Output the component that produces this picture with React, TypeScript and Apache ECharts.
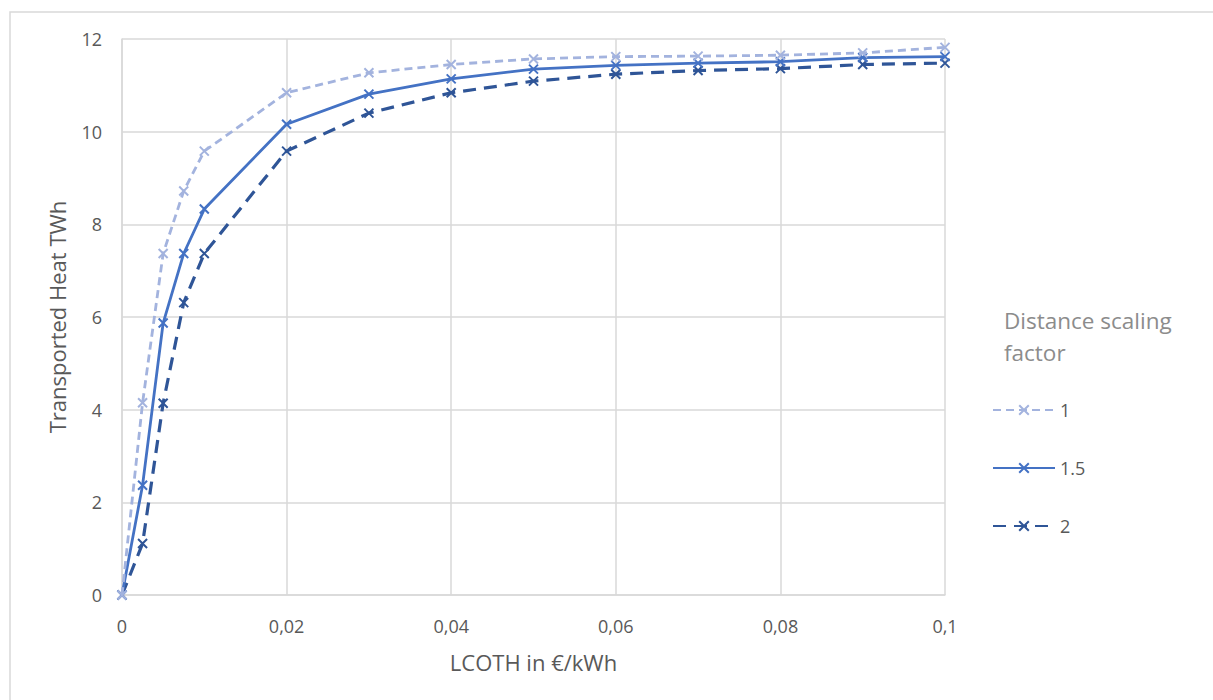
import React, { useEffect, useRef } from "react";
import * as echarts from "echarts";

const xValues = [0, 0.0025, 0.005, 0.0075, 0.01, 0.02, 0.03, 0.04, 0.05, 0.06, 0.07, 0.08, 0.09, 0.1];
const series1 = [0, 4.15, 7.37, 8.72, 9.58, 10.84, 11.27, 11.45, 11.57, 11.62, 11.63, 11.65, 11.7, 11.82];
const series15 = [0, 2.37, 5.87, 7.37, 8.33, 10.16, 10.81, 11.14, 11.35, 11.43, 11.48, 11.51, 11.6, 11.62];
const series2 = [0, 1.11, 4.14, 6.31, 7.37, 9.58, 10.4, 10.84, 11.09, 11.24, 11.32, 11.36, 11.45, 11.48];
const seriesNames = ["1", "1.5", "2"];
const xTickLabels = ["0", "0,02", "0,04", "0,06", "0,08", "0,1"];
const yTickLabels = ["0", "2", "4", "6", "8", "10", "12"];
const legendTitle = ["Distance scaling", "factor"];
const xAxisName = "LCOTH in €/kWh";
const yAxisName = "Transported Heat TWh";

const FONT = "'Open Sans', 'Noto Sans', sans-serif";
const X_MARK = "path://M0,0L10,10M10,0L0,10";

function pairs(ys: number[]) {
  return xValues.map((x, i) => [x, ys[i]]);
}

export default function App() {
  const ref = useRef<HTMLDivElement>(null);
  useEffect(() => {
    if (!ref.current) return;
    const chart = echarts.init(ref.current, undefined, { renderer: "svg" });
    const colors = ["#A3B3DE", "#4472C4", "#2F5597"];
    const dashes: any[] = [[8, 5], "solid", [13, 8]];
    const widths = [2.8, 2.8, 3.2];
    const datas = [series1, series15, series2];
    chart.setOption({
      animation: false,
      backgroundColor: "#ffffff",
      textStyle: { fontFamily: FONT },
      grid: { left: 122, right: 268, top: 39, bottom: 105, containLabel: false },
      xAxis: {
        type: "value",
        min: 0,
        max: 0.1,
        interval: 0.02,
        name: xAxisName,
        nameLocation: "middle",
        nameGap: 56,
        nameTextStyle: { fontSize: 22, color: "#595959", fontFamily: FONT },
        axisLine: { show: true, lineStyle: { color: "#D9D9D9", width: 1.5 } },
        axisTick: { show: false },
        splitLine: { show: true, lineStyle: { color: "#D9D9D9", width: 1.5 } },
        axisLabel: {
          margin: 22,
          fontSize: 18,
          color: "#595959",
          fontFamily: FONT,
          formatter: (v: number) => xTickLabels[Math.round(v / 0.02)] ?? "",
        },
      },
      yAxis: {
        type: "value",
        min: 0,
        max: 12,
        interval: 2,
        name: yAxisName,
        nameLocation: "middle",
        nameGap: 54,
        nameTextStyle: { fontSize: 22, color: "#595959", fontFamily: FONT },
        axisLine: { show: true, lineStyle: { color: "#D9D9D9", width: 1.5 } },
        axisTick: { show: false },
        splitLine: { show: true, lineStyle: { color: "#D9D9D9", width: 1.5 } },
        axisLabel: {
          margin: 20,
          fontSize: 18,
          color: "#595959",
          fontFamily: FONT,
          formatter: (v: number) => yTickLabels[Math.round(v / 2)] ?? "",
        },
      },
      legend: {
        orient: "vertical",
        left: 992,
        top: 401,
        padding: 0,
        itemWidth: 62,
        itemHeight: 12,
        itemGap: 40,
        textStyle: { fontSize: 18, color: "#595959", fontFamily: FONT },
        data: seriesNames,
      },
      graphic: [
        {
          type: "rect",
          silent: true,
          z: -10,
          shape: { x: 10, y: 12, width: 1300, height: 800 },
          style: { fill: "none", stroke: "#D9D9D9", lineWidth: 1.5 },
        },
        {
          type: "text",
          left: 1004,
          top: 304,
          style: {
            text: legendTitle.join("\n"),
            fontSize: 22.5,
            lineHeight: 32,
            fill: "#8C8C8C",
            fontFamily: FONT,
          },
        },
      ],
      series: datas.map((d, i) => ({
        name: seriesNames[i],
        type: "line",
        data: pairs(d),
        symbol: X_MARK,
        symbolSize: 9,
        showSymbol: true,
        lineStyle: { color: colors[i], width: widths[i], type: dashes[i] },
        itemStyle: { color: colors[i], borderColor: colors[i], borderWidth: 2 },
        z: 3 - i,
      })),
    });
    return () => chart.dispose();
  }, []);
  return (
    <div
      ref={ref}
      style={{ position: "absolute", left: 0, top: 0, width: 1213, height: 700 }}
    />
  );
}
